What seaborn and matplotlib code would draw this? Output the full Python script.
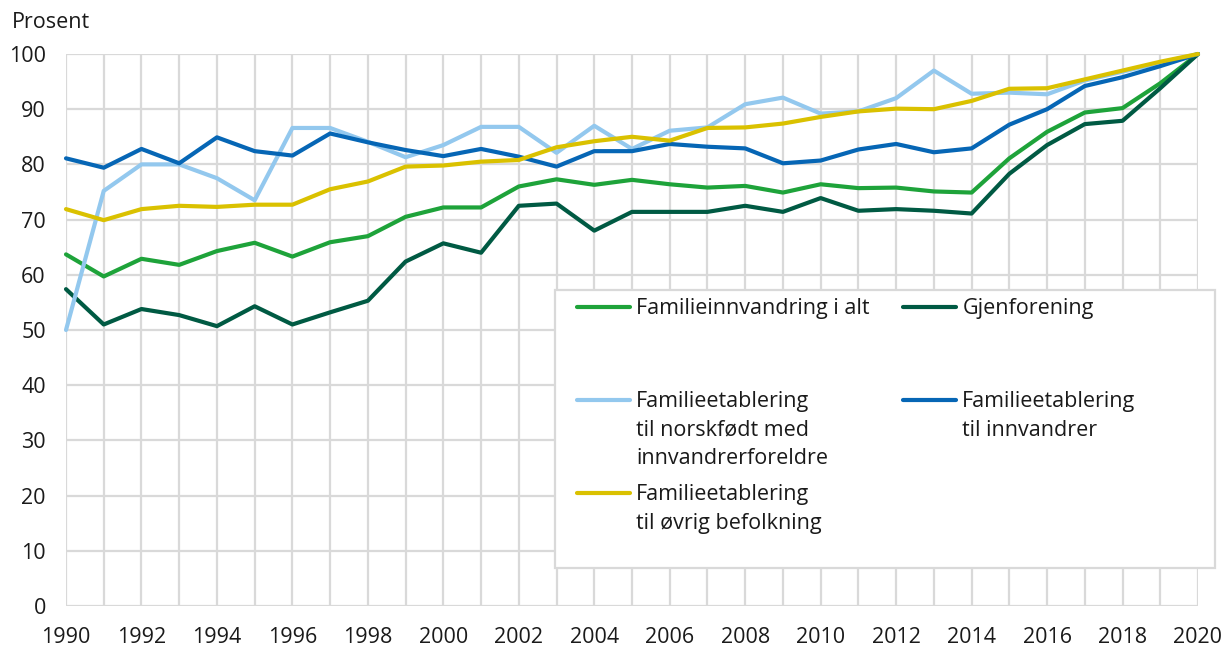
import matplotlib
matplotlib.use("Agg")
import matplotlib.pyplot as plt
import seaborn as sns
import pandas as pd
from matplotlib.lines import Line2D
from matplotlib.patches import Rectangle

years = list(range(1990, 2021))

i_alt = [63.7, 59.7, 62.9, 61.8, 64.3, 65.8, 63.3, 65.9, 67.0, 70.5, 72.2,
         72.2, 76.0, 77.3, 76.3, 77.2, 76.4, 75.8, 76.1, 74.9, 76.4,
         75.7, 75.8, 75.1, 74.9, 81.1, 85.9, 89.4, 90.2, 94.7, 100.0]
gjenforening = [57.4, 51.0, 53.8, 52.7, 50.7, 54.3, 51.0, 53.2, 55.3, 62.4, 65.7,
                64.0, 72.5, 72.9, 68.0, 71.4, 71.4, 71.4, 72.5, 71.4, 73.9,
                71.6, 71.9, 71.6, 71.1, 78.3, 83.5, 87.3, 87.9, 93.8, 100.0]
norskfodt = [50.0, 75.2, 80.0, 80.0, 77.5, 73.5, 86.6, 86.6, 84.1, 81.3, 83.5,
             86.8, 86.8, 82.1, 87.0, 82.8, 86.1, 86.7, 90.9, 92.1, 89.2,
             89.6, 92.0, 97.0, 92.8, 93.0, 92.7, 95.2, 96.8, 98.4, 100.0]
innvandrer = [81.1, 79.4, 82.8, 80.2, 84.9, 82.4, 81.6, 85.6, 84.0, 82.6, 81.5,
              82.8, 81.4, 79.6, 82.4, 82.4, 83.7, 83.2, 82.9, 80.2, 80.7,
              82.7, 83.7, 82.2, 82.9, 87.2, 90.0, 94.2, 95.8, 97.8, 100.0]
ovrig = [71.9, 69.9, 71.9, 72.5, 72.3, 72.7, 72.7, 75.5, 76.9, 79.6, 79.8,
         80.5, 80.8, 83.1, 84.2, 85.0, 84.3, 86.6, 86.7, 87.4, 88.6,
         89.6, 90.1, 90.0, 91.5, 93.7, 93.8, 95.4, 97.0, 98.6, 100.0]

series_names = ["Familieinnvandring i alt", "Gjenforening",
                "Familieetablering til norskfødt med innvandrerforeldre",
                "Familieetablering til innvandrer",
                "Familieetablering til øvrig befolkning"]
series_values = [i_alt, gjenforening, norskfodt, innvandrer, ovrig]
legend_labels = ["Familieinnvandring i alt\n\n", "Gjenforening\n\n",
                 "Familieetablering\ntil norskfødt med\ninnvandrerforeldre",
                 "Familieetablering\ntil innvandrer",
                 "Familieetablering\ntil øvrig befolkning"]
colors = ["#1ea33a", "#005a43", "#93c8ee", "#0666b5", "#dac100"]

y_ticks = list(range(0, 101, 10))
x_label_years = list(range(1990, 2021, 2))

rows = []
for name, vals in zip(series_names, series_values):
    for y, v in zip(years, vals):
        rows.append({"year": y, "value": v, "series": name})
df = pd.DataFrame(rows)

sns.set_theme(style="white")
plt.rcParams["font.family"] = ["Open Sans", "DejaVu Sans"]
text_color = "#1a1a1a"
FS = 15.5

fig = plt.figure(figsize=(12.25, 6.48), dpi=100)
ax = fig.add_axes([66 / 1225, 42 / 648, 1132 / 1225, 552 / 648])

palette = dict(zip(series_names, colors))
sns.lineplot(data=df, x="year", y="value", hue="series", hue_order=series_names,
             palette=palette, linewidth=3.0, ax=ax, legend=False, zorder=3)
for ln in ax.get_lines():
    ln.set_clip_on(False)
    ln.set_solid_joinstyle("round")

ax.set_xlim(1990, 2020)
ax.set_ylim(0, 100)
ax.set_xticks(years)
ax.set_xticklabels([str(y) if y in x_label_years else "" for y in years])
ax.set_yticks(y_ticks)
ax.set_yticklabels([str(v) for v in y_ticks])
ax.grid(True, color="#d9d9d9", linewidth=1.6)
ax.set_axisbelow(True)
for s in ax.spines.values():
    s.set_visible(False)
ax.tick_params(axis="both", length=0, labelsize=FS, colors=text_color)
ax.tick_params(axis="x", pad=15)
ax.tick_params(axis="y", pad=14.5)
ax.set_xlabel("")
ax.set_ylabel("")

fig.text(12 / 1225, 1 - 23 / 648, "Prosent", fontsize=FS, color=text_color,
         ha="left", va="center")

# legend background box
bx0 = (555 - 66) / 1132
bx1 = (1215 - 66) / 1132
by1 = (606 - 290) / 552
by0 = (606 - 568) / 552
ax.add_patch(Rectangle((bx0, by0), bx1 - bx0, by1 - by0, transform=ax.transAxes,
                       facecolor="white", edgecolor="#d9d9d9", linewidth=1.6,
                       clip_on=False, zorder=4))

order = [0, 2, 4, 1, 3]
handles = [Line2D([0], [0], color=colors[i], linewidth=3.0,
                  solid_capstyle="round") for i in order]
labels = [legend_labels[i] for i in order]
leg = ax.legend(handles, labels, ncol=2, frameon=False, fontsize=FS,
                loc="upper left",
                bbox_to_anchor=((577 - 66) / 1132, (606 - 298) / 552),
                borderpad=0, borderaxespad=0, handlelength=2.45,
                handletextpad=0.3, columnspacing=1.55, labelspacing=0.68,
                handleheight=1.0)
leg.set_zorder(5)
for t in leg.get_texts():
    t.set_color(text_color)
    t.set_linespacing(1.48)
for col in leg._legend_handle_box.get_children():
    for hp in col.get_children():
        hp.align = "top"

fig.savefig("out.png", dpi=100)
